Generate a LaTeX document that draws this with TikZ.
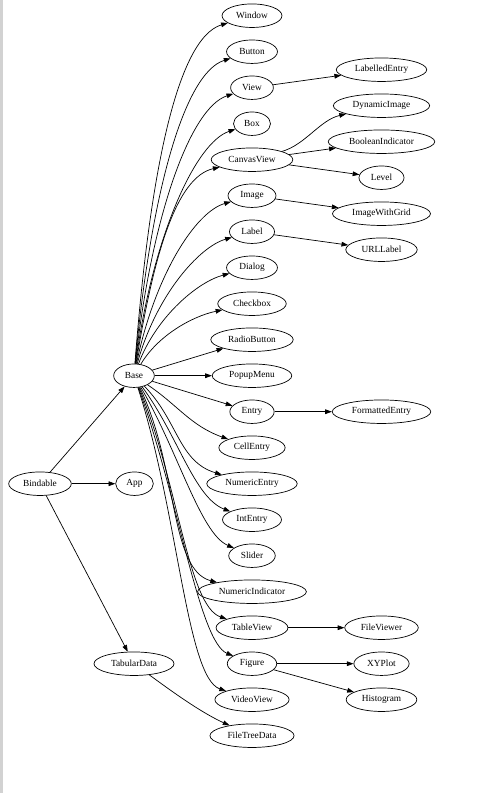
\documentclass[tikz,border=0pt]{standalone}
\usepackage{fontspec}
\setmainfont{Liberation Serif}
\usetikzlibrary{shapes.geometric,arrows.meta,calc}
\tikzset{
  gv/.style={ellipse, draw, line width=0.7pt, inner xsep=5.3pt, inner ysep=2pt,
    minimum height=23.5pt, minimum width=36pt, font=\fontsize{9.33}{11}\selectfont},
  arr/.style={draw, line width=0.7pt, -{Triangle[length=6.7pt,width=4.7pt]}}
}
\begin{document}
\begin{tikzpicture}[x=1pt,y=-1pt]
\useasboundingbox (0,0) rectangle (485,793);
\fill[gray!35] (0,0) rectangle (2.5,793);
% left column
\node[gv] (Bindable) at (40,483.7) {Bindable};
\node[gv] (App) at (134.5,483.7) {App};
\node[gv] (Base) at (134,375.7) {Base};
\node[gv] (TabularData) at (134,663.7) {TabularData};
% middle column
\foreach \n/\i in {Window/0,Button/1,View/2,Box/3,CanvasView/4,Image/5,Label/6,Dialog/7,Checkbox/8,RadioButton/9,PopupMenu/10,Entry/11,CellEntry/12,NumericEntry/13,IntEntry/14,Slider/15,NumericIndicator/16,TableView/17,Figure/18,VideoView/19,FileTreeData/20}
  \node[gv] (\n) at (252,15.7+36*\i) {\n};
% right column
\foreach \n/\i in {LabelledEntry/1.5,DynamicImage/2.5,BooleanIndicator/3.5,Level/4.5,ImageWithGrid/5.5,URLLabel/6.5,FormattedEntry/11,FileViewer/17,XYPlot/18,Histogram/19}
  \node[gv] (\n) at (381.5,15.7+36*\i) {\n};
% Bindable edges
\draw[arr] (Bindable) -- (Base);
\draw[arr] (Bindable) -- (App);
\draw[arr] (Bindable) -- (TabularData);
% upward fan from Base
\foreach \n/\i in {Window/0,Button/1,View/2,Box/3,CanvasView/4,Image/5,Label/6,Dialog/7,Checkbox/8}{
  \pgfmathsetmacro\dy{360-36*\i}
  \pgfmathsetmacro\cax{160-0.03*\dy}
  \pgfmathsetmacro\cay{375-0.55*\dy}
  \pgfmathsetmacro\ox{-(20+0.07*\dy)}
  \pgfmathsetmacro\oy{10+0.035*\dy}
  \draw[arr] (Base) .. controls (\cax,\cay) and ($(\n.west)+(\ox,\oy)$) .. (\n);
}
\draw[arr] (Base) -- (RadioButton);
\draw[arr] (Base) -- (PopupMenu);
\draw[arr] (Base) -- (Entry);
% downward fan from Base
\foreach \n/\i in {CellEntry/12,NumericEntry/13,IntEntry/14,Slider/15,NumericIndicator/16,TableView/17,Figure/18,VideoView/19}{
  \pgfmathsetmacro\dy{36*\i-360}
  \pgfmathsetmacro\cay{375+0.42*\dy}
  \draw[arr] (Base) .. controls (178,\cay) and ($(\n.west)+(-28,-22)$) .. (\n);
}
% right-hand edges
\draw[arr] (View) -- (LabelledEntry);
\draw[arr] (CanvasView) .. controls (305,145) and (320,120) .. (DynamicImage);
\draw[arr] (CanvasView) -- (BooleanIndicator);
\draw[arr] (CanvasView) -- (Level);
\draw[arr] (Image) -- (ImageWithGrid);
\draw[arr] (Label) -- (URLLabel);
\draw[arr] (Entry) -- (FormattedEntry);
\draw[arr] (TableView) -- (FileViewer);
\draw[arr] (Figure) -- (XYPlot);
\draw[arr] (Figure) -- (Histogram);
\draw[arr] (TabularData) .. controls (170,690) and (200,712) .. (FileTreeData);
\end{tikzpicture}
\end{document}
